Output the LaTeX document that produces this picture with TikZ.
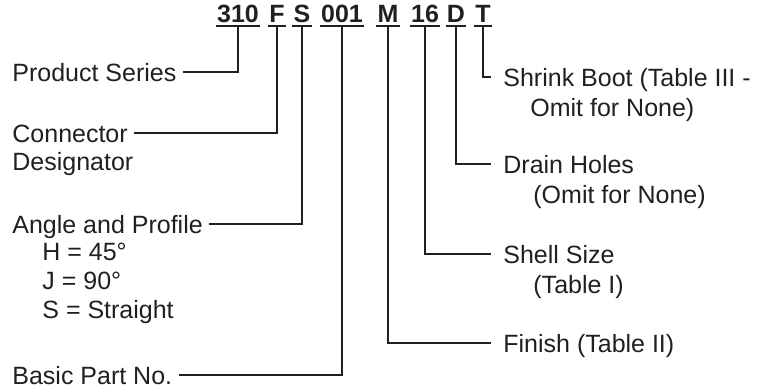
\documentclass[tikz,border=0pt]{standalone}
\usepackage{fontspec}
\setmainfont{Liberation Sans}
\usepackage{tikz}
\definecolor{inkcol}{RGB}{35,31,32}

\begin{document}
\begin{tikzpicture}[
  x=0.5pt, y=-0.5pt,
  font=\fontsize{12.5}{15}\selectfont,
  code/.style={font=\fontsize{12.5}{15}\selectfont\bfseries, text=inkcol,
               anchor=base, inner xsep=0.5pt, inner ysep=2pt, text depth=0pt},
  lbl/.style={text=inkcol, anchor=west, inner xsep=3pt, inner ysep=0pt,
              text height=9pt, text depth=0pt},
  rlbl/.style={lbl, inner xsep=6pt},
  lead/.style={draw=inkcol, line width=1pt}
]
  \useasboundingbox (0,0) rectangle (761,391);

  % part number
  \node[code] (c310) at (238,22) {310};
  \node[code] (cF)   at (277,22) {F};
  \node[code] (cS)   at (302,22) {S};
  \node[code] (c001) at (342,22) {001};
  \node[code] (cM)   at (388,22) {M};
  \node[code] (c16)  at (425,22) {16};
  \node[code] (cD)   at (456,22) {D};
  \node[code] (cT)   at (483,22) {T};
  \foreach \c in {c310,cF,cS,c001,cM,c16,cD,cT}
    \draw[lead] (\c.south west) -- (\c.south east);

  % left side
  \node[lbl] (ps)  at (6,72)   {Product Series};
  \node[lbl] (cd1) at (6,133)  {Connector};
  \node[lbl] (cd2) at (6,161)  {Designator};
  \node[lbl] (ap)  at (6,224)  {Angle and Profile};
  \node[lbl] (aph) at (36,251) {H = 45°};
  \node[lbl] (apj) at (36,280) {J = 90°};
  \node[lbl] (aps) at (36,309) {S = Straight};
  \node[lbl] (bp)  at (6,375)  {Basic Part No.};

  % right side
  \node[rlbl] (sb1) at (491,77)  {Shrink Boot (Table III -};
  \node[rlbl] (sb2) at (518,107) {Omit for None)};
  \node[rlbl] (dh1) at (491,164) {Drain Holes};
  \node[rlbl] (dh2) at (521,194) {(Omit for None)};
  \node[rlbl] (ss1) at (491,254) {Shell Size};
  \node[rlbl] (ss2) at (521,284) {(Table I)};
  \node[rlbl] (fin) at (491,343) {Finish (Table II)};

  \draw[lead] (c310.south) |- (ps.east);
  \draw[lead] (cF.south)   |- (cd1.east);
  \draw[lead] (cS.south)   |- (ap.east);
  \draw[lead] (c001.south) |- (bp.east);
  \draw[lead] (cM.south)   |- (fin.west);
  \draw[lead] (c16.south)  |- (ss1.west);
  \draw[lead] (cD.south)   |- (dh1.west);
  \draw[lead] (cT.south)   |- (sb1.west);
\end{tikzpicture}
\end{document}
